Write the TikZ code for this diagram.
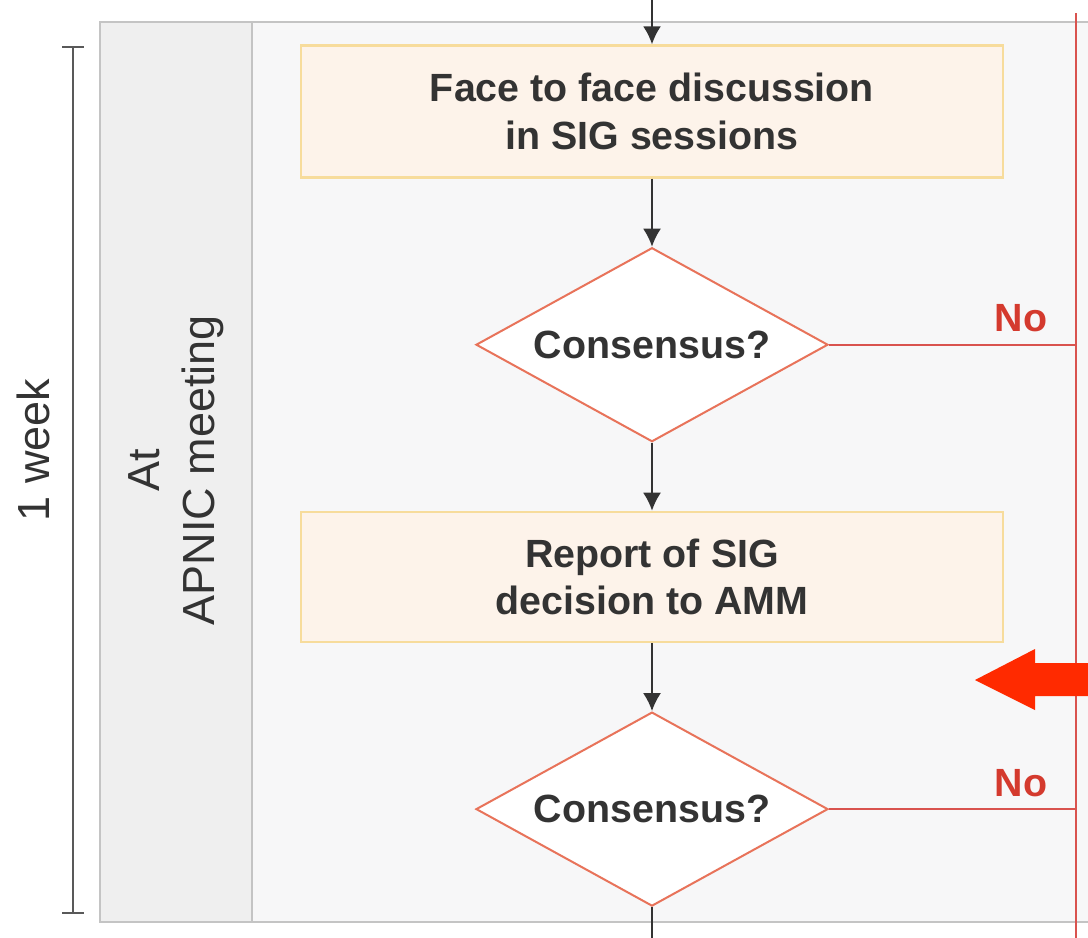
\documentclass[tikz,border=0pt]{standalone}
\usepackage{fontspec}
\setmainfont{Liberation Sans}
\usetikzlibrary{arrows.meta,positioning,shapes.geometric}

\definecolor{lanegrey}{HTML}{EFEFEF}
\definecolor{areagrey}{HTML}{F7F7F8}
\definecolor{panelline}{HTML}{C4C4C4}
\definecolor{boxfill}{HTML}{FDF3EA}
\definecolor{boxline}{HTML}{F7DC9C}
\definecolor{diamline}{HTML}{E8735A}
\definecolor{redline}{HTML}{D9534F}
\definecolor{nored}{HTML}{D43A2E}
\definecolor{bigred}{HTML}{FF2A00}
\definecolor{textgrey}{HTML}{333333}

\begin{document}
\begin{tikzpicture}[
  x=0.25mm, y=-0.25mm,
  node distance=17mm,
  procbox/.style={draw=boxline, fill=boxfill, line width=0.6mm, minimum width=175.5mm, minimum height=33mm, align=center, text=textgrey, font=\bfseries\fontsize{28}{34}\selectfont},
  decision/.style={diamond, aspect=1.83, draw=diamline, fill=white, line width=0.5mm, minimum width=88mm, minimum height=48.5mm, inner sep=0pt, text=textgrey, font=\bfseries\fontsize{28}{34}\selectfont},
  flow/.style={draw=textgrey, line width=0.5mm, -{Latex[length=4.5mm,width=4.5mm]}},
  noline/.style={draw=redline, line width=0.4mm},
  nolabel/.style={text=nored, font=\bfseries\fontsize{28}{34}\selectfont},
  sidelabel/.style={rotate=90, align=center, text=textgrey, font=\fontsize{32}{39}\selectfont}
]
\useasboundingbox (0,0) rectangle (1088,938);

% lanes
\fill[lanegrey] (100,22) rectangle (252,922);
\fill[areagrey] (252,22) rectangle (1088,922);
\draw[panelline, line width=0.5mm] (1088,22) -- (100,22) -- (100,922) -- (1088,922);
\draw[panelline, line width=0.4mm] (252,22) -- (252,922);

% time bracket
\draw[gray!70!black, line width=0.5mm] (62,47) -- (84,47) (73,47) -- (73,913) (62,913) -- (84,913);
\node[sidelabel] (week) at (33,450) {1 week};
\node[sidelabel] (where) at (176,470) {At\\APNIC meeting};

% steps
\node[procbox] (facebox) at (652,111.5) {Face to face discussion\\in SIG sessions};
\node[decision, below=of facebox] (cons1) {Consensus?};
\node[procbox, minimum height=32.5mm, below=of cons1] (reportbox) {Report of SIG\\decision to AMM};
\node[decision, below=of reportbox] (cons2) {Consensus?};

\coordinate (entry) at (652,0);
\coordinate (exit) at (652,938);
\coordinate (railtop) at (1076,13);
\coordinate (railbot) at (1076,938);

\draw[flow] (entry) -- (facebox);
\draw[flow] (facebox) -- (cons1);
\draw[flow] (cons1) -- (reportbox);
\draw[flow] (reportbox) -- (cons2);
\draw[draw=textgrey, line width=0.5mm] (cons2) -- (exit);

% no branches
\draw[noline] (railtop) -- (railbot);
\draw[noline] (cons1.east) -- (cons1.east -| railtop);
\draw[noline] (cons2.east) -- (cons2.east -| railtop);
\node[nolabel] (no1) at (1021,318) {No};
\node[nolabel] (no2) at (1021,783) {No};

% pointer
\fill[bigred] (975,680) -- (1035,649) -- (1035,663) -- (1088,663) -- (1088,696) -- (1035,696) -- (1035,710) -- cycle;
\end{tikzpicture}
\end{document}
